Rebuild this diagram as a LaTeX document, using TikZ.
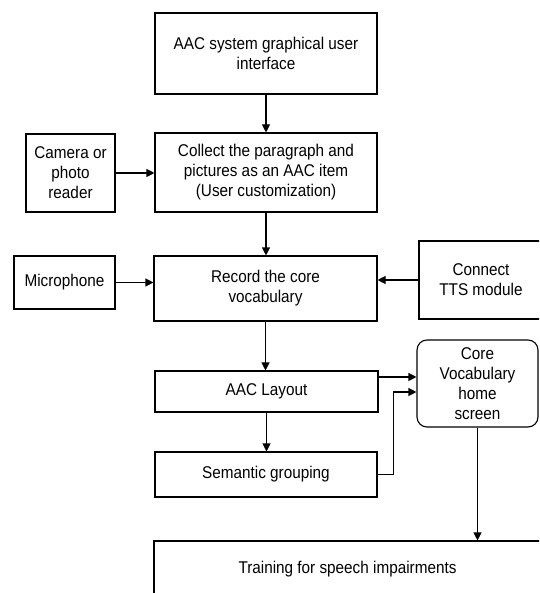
\documentclass[tikz,border=0pt]{standalone}
\usepackage{fontspec}
\setmainfont{Liberation Sans}[FakeStretch=0.9]
\usetikzlibrary{arrows.meta}
\begin{document}
\begin{tikzpicture}[x=1pt,y=-1pt,
  box/.style={draw, line width=1.1pt, align=center, inner sep=0pt,
    font=\fontsize{17}{20}\selectfont},
  conn/.style={line width=1.1pt, -{Triangle[length=8pt,width=8pt]}}]
\useasboundingbox (0,0) rectangle (539,593);
\clip (0,0) rectangle (539,593);
\node[box, minimum width=222pt, minimum height=81pt] (gui) at (266,53.5) {AAC system graphical user\\interface};
\node[box, minimum width=222pt, minimum height=79pt] (collect) at (266,172.5) {Collect the paragraph and\\pictures as an AAC item\\(User customization)};
\node[box, minimum width=89pt, minimum height=78pt] (camera) at (70.5,173) {Camera or\\photo\\reader};
\node[box, minimum width=223pt, minimum height=65pt] (record) at (265.5,288.5) {Record the core\\vocabulary};
\node[box, minimum width=101pt, minimum height=53pt] (mic) at (64.5,282.5) {Microphone};
\node[box, minimum width=124pt, minimum height=78pt] (tts) at (481,280) {Connect\\TTS module};
\node[box, rounded corners=10pt, minimum width=121pt, minimum height=87pt] (core) at (477.5,383.5) {Core\\Vocabulary\\home\\screen};
\node[box, minimum width=223pt, minimum height=41pt] (layout) at (266.5,391.5) {AAC Layout};
\node[box, minimum width=222pt, minimum height=45pt] (sem) at (266,474.5) {Semantic grouping};
\node[box, minimum width=387pt, minimum height=56pt] (train) at (347.5,569) {Training for speech impairments};
\draw[conn] (gui) -- (collect);
\draw[conn] (camera.east) -- (camera.east -| collect.west);
\draw[conn] (collect.south) -- (collect.south |- record.north);
\draw[conn] (mic.east) -- (mic.east -| record.west);
\draw[conn] (tts.west) -- (tts.west -| record.east);
\draw[conn] (record.south) -- (record.south |- layout.north);
\draw[conn] (layout.south) -- (layout.south |- sem.north);
\draw[conn] ([yshift=14.5pt]layout.east) -- ([yshift=14.5pt]layout.east -| core.west);
\draw[conn] (sem.east) -- ++(16,0) |- ([yshift=-8.5pt]core.west);
\draw[conn] (core.south) -- (core.south |- train.north);
\end{tikzpicture}
\end{document}
